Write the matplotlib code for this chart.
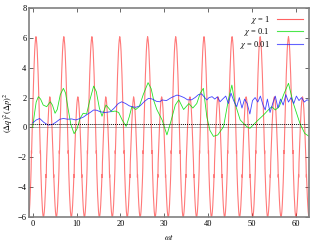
import matplotlib
matplotlib.use('Agg')
import matplotlib.pyplot as plt

# =========================
# DATA
# =========================
# chi = 1 : one period of the curve (half of it, symmetric about the main peak)
red_half_offset = [0, 0.1, 0.2, 0.3, 0.4, 0.5, 0.6, 0.7, 0.8, 0.9, 0.97, 1.0, 1.03,
                   1.06, 1.1, 1.2, 1.3, 1.4, 1.5, 1.6, 1.7, 1.8, 1.9, 2.0, 2.1, 2.2,
                   2.27, 2.3, 2.33, 2.36, 2.4, 2.5, 2.6, 2.7, 2.8, 2.9, 3.0, 3.1, 3.2]
red_half_value = [6.08, 5.9, 5.58, 5.08, 4.4, 3.56, 2.61, 1.56, 0.46, -0.65, -1.45,
                  -1.75, -1.55, -1.9, -2.76, -3.69, -4.49, -5.13, -5.61, -5.9, -5.98,
                  -5.91, -5.65, -5.22, -4.64, -3.96, -3.4, -3.15, -3.35, -3.05, -2.36,
                  -1.53, -0.72, 0.04, 0.70, 1.25, 1.66, 1.92, 2.05]
# positions of the tall peaks
red_peaks = [-5.65, 0.75, 7.1, 13.5, 19.85, 26.2, 32.6, 39.05, 45.45, 51.85, 58.3, 64.7]

# chi = 0.1
green_t = [0.0, 0.4, 0.8, 1.3, 1.8, 2.4, 3.2, 4.0, 4.5, 5.1, 5.6, 6.3, 7.0, 7.5, 8.1,
           8.7, 9.45, 10.1, 10.8, 11.5, 12.3, 13.0, 13.9, 14.5, 15.2, 15.8, 16.7,
           17.3, 18.0, 18.8, 19.6, 20.4, 21.3, 22.0, 22.6, 23.5, 24.3, 25.2, 26.3,
           27.0, 27.6, 28.3, 29.5, 30.6, 31.5, 32.5, 33.3, 34.4, 35.6, 36.5, 37.4,
           38.2, 38.9, 39.7, 40.4, 41.2, 42.2, 43.5, 44.6, 45.4, 46.1, 47.3, 48.8,
           49.5, 51.4, 52.6, 53.7, 54.5, 55.3, 56.2, 57.2, 58.3, 59.4, 60.9, 62.0, 63.0]
green_y = [0.0, 0.9, 1.7, 2.06, 1.9, 1.5, 1.39, 1.72, 1.5, 0.95, 1.2, 2.2, 2.62, 2.3,
           1.2, 0.2, -0.42, -0.1, 0.6, 0.95, 0.9, 1.8, 2.77, 2.4, 1.3, 0.75, 1.5, 1.3,
           1.05, 1.1, 1.0, 0.5, 0.07, 0.7, 1.39, 1.2, 1.4, 2.2, 3.0, 2.6, 1.8, 1.2,
           0.5, -0.5, 0.4, 1.5, 1.85, 1.2, 1.6, 1.3, 1.6, 2.3, 2.62, 0.7, -0.2, -0.6,
           -0.5, 0.05, 1.84, 2.84, 1.62, 0.5, 0.05, -0.06, 0.5, 0.83, 1.17, 1.39,
           1.17, 1.4, 2.2, 2.96, 1.62, 0.28, -0.4, -0.6]

# chi = 0.01
blue_t = [0.0, 0.8, 1.6, 2.5, 3.5, 4.5, 5.3, 6.2, 7.0, 8.0, 8.9, 9.8, 10.8, 11.6,
          12.3, 13.1, 13.9, 14.6, 15.4, 16.5, 17.7, 18.6, 19.5, 20.3, 21.2, 22.0,
          22.6, 23.5, 24.5, 25.5, 26.4, 27.3, 28.2, 29.0, 29.5, 30.5, 31.6, 32.9,
          33.7, 34.5, 35.3, 36.2, 37.0, 37.8, 38.5, 39.2, 39.7, 40.2, 40.9, 41.5,
          42.1, 42.7, 43.3, 44.0, 44.6, 45.2, 45.8, 46.5, 47.1, 47.7, 48.3, 48.9,
          49.5, 50.1, 50.7, 51.3, 51.9, 52.5, 53.0, 53.5, 54.1, 54.7, 55.3, 55.9,
          56.5, 57.1, 57.7, 58.3, 58.9, 59.5, 60.1, 60.7, 61.3, 61.9, 62.5, 63.0]
blue_y = [0.3, 0.5, 0.6, 0.35, 0.16, 0.2, 0.35, 0.55, 0.6, 0.55, 0.57, 0.5, 0.6, 0.7,
          0.85, 1.0, 1.17, 1.15, 1.05, 1.0, 1.05, 1.3, 1.6, 1.72, 1.6, 1.45, 1.39,
          1.35, 1.45, 1.75, 1.95, 1.9, 1.75, 1.72, 1.84, 1.8, 2.0, 2.17, 2.1, 2.0,
          1.85, 1.85, 2.0, 2.2, 2.25, 2.0, 1.84, 2.0, 2.06, 1.9, 2.05, 1.72, 1.9,
          2.1, 1.6, 2.3, 1.8, 1.39, 2.0, 1.3, 1.9, 1.6, 0.9, 1.8, 2.0, 1.7, 2.1,
          1.5, 1.17, 1.9, 1.0, 1.6, 2.1, 1.3, 1.9, 1.5, 2.2, 1.7, 2.0, 1.6, 2.1,
          1.8, 2.0, 1.7, 1.85, 1.8]

labels = [r'$\chi$ = 1', r'$\chi$ = 0.1', r'$\chi$ = 0.01']
colors = ['#ff2020', '#00dd00', '#2020ff']
bound = 0.25

# =========================
# BUILD RED SERIES
# =========================
full_off = [-o for o in reversed(red_half_offset[1:])] + red_half_offset
full_val = list(reversed(red_half_value[1:])) + red_half_value
red_t, red_y = [], []
for p in red_peaks:
    red_t += [p + o for o in full_off[:-1]]
    red_y += full_val[:-1]

# =========================
# PLOT
# =========================
plt.rcParams['font.family'] = 'Liberation Serif'
plt.rcParams['mathtext.fontset'] = 'stix'

fig = plt.figure(figsize=(3.24, 2.43), dpi=100)
ax = fig.add_axes([0.09, 0.107, 0.864, 0.86])

ax.plot(red_t, red_y, color=colors[0], lw=0.8, alpha=0.6, label=labels[0])
ax.plot(green_t, green_y, color=colors[1], lw=0.6, alpha=0.85, label=labels[1])
ax.plot(blue_t, blue_y, color=colors[2], lw=0.6, alpha=0.85, label=labels[2])

ax.axhline(0, color='#a0a0a0', lw=0.6, zorder=0)
ax.axhline(bound, color='black', lw=0.7, ls=(0, (1, 1)))

ax.set_xlim(-0.8, 63)
ax.set_ylim(-6, 8)
ax.set_xticks(range(0, 61, 10))
ax.set_yticks(range(-6, 9, 2))

ax.tick_params(direction='in', length=3, width=0.6, labelsize=6,
               top=True, right=True, colors='#505050', labelcolor='black', pad=2)
for s in ax.spines.values():
    s.set_color('#808080')
    s.set_linewidth(1.2)

ax.set_xlabel(r'$\omega t$', fontsize=6, labelpad=3)
ax.set_ylabel(r'$(\Delta q)^2(\Delta p)^2$', fontsize=6, labelpad=2)

leg = ax.legend(loc='upper right', frameon=False, markerfirst=False, fontsize=6,
                handlelength=3.2, labelspacing=0.05, borderaxespad=0.3,
                handletextpad=0.8)
for h, c in zip(leg.get_lines(), colors):
    h.set_color(c)
    h.set_alpha(0.7)
    h.set_linewidth(0.8)

fig.savefig('out.png', dpi=100)
